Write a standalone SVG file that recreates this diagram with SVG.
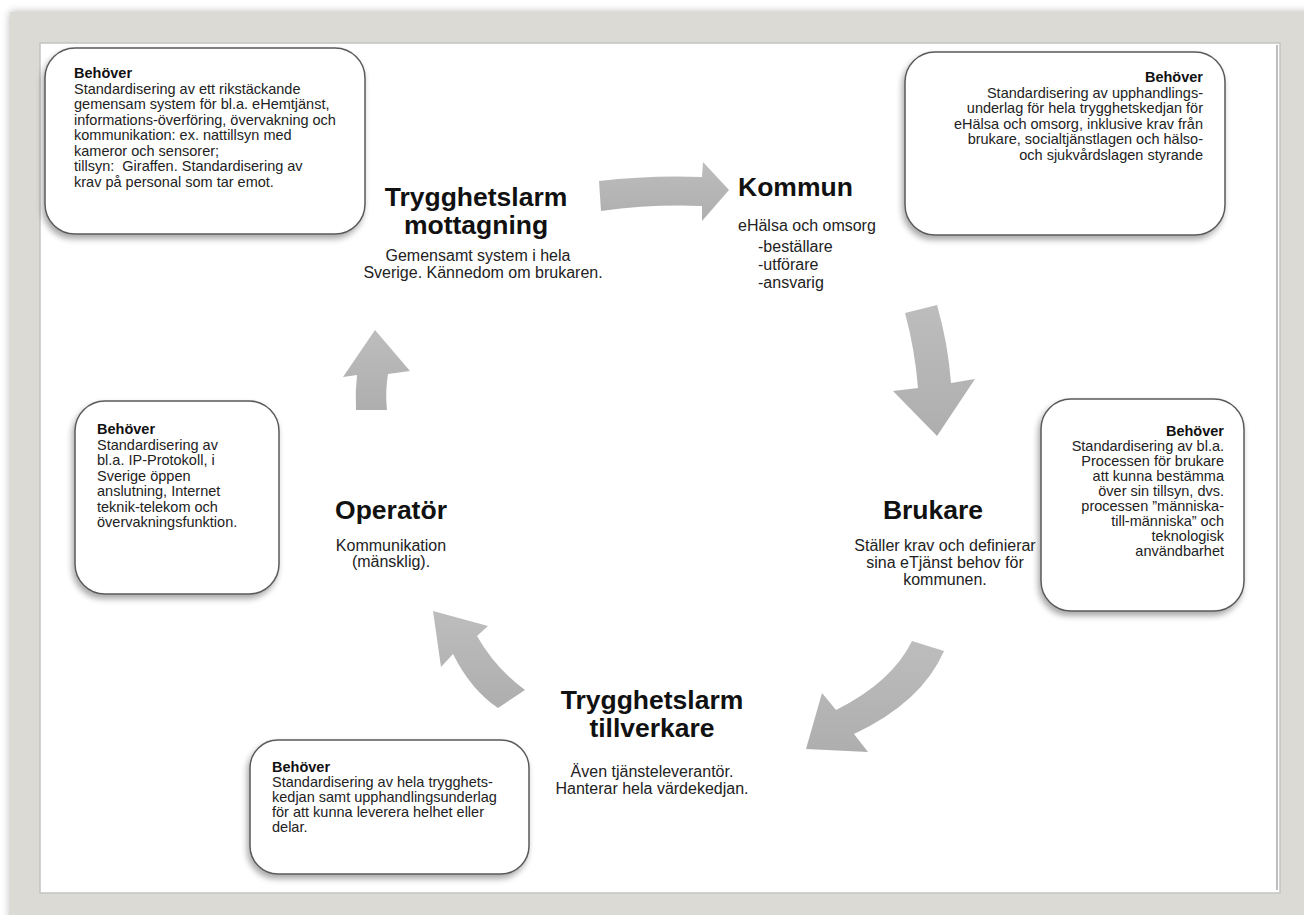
<svg xmlns="http://www.w3.org/2000/svg" width="1304" height="915" viewBox="0 0 1304 915">
<defs>
<style>
.box{fill:#fff;stroke:#5a5a5a;stroke-width:1.5;filter:url(#sh)}
.bt{font-family:"Liberation Sans",Arial,sans-serif;font-size:14.5px;fill:#222}
.bh{font-weight:bold;fill:#111}
.ttl{font-family:"Liberation Sans",Arial,sans-serif;font-size:26.5px;font-weight:bold;fill:#111;text-anchor:middle}
.sub{font-family:"Liberation Sans",Arial,sans-serif;font-size:16px;fill:#222;text-anchor:middle}
.arr{fill:url(#ag)}
</style>
<filter id="sh" x="-10%" y="-10%" width="120%" height="125%">
<feGaussianBlur in="SourceAlpha" stdDeviation="3"/>
<feOffset dx="-2" dy="4" result="b"/>
<feComponentTransfer><feFuncA type="linear" slope="0.35"/></feComponentTransfer>
<feMerge><feMergeNode/><feMergeNode in="SourceGraphic"/></feMerge>
</filter>
<filter id="fsh" x="-5%" y="-5%" width="110%" height="110%">
<feGaussianBlur in="SourceAlpha" stdDeviation="4"/>
<feComponentTransfer><feFuncA type="linear" slope="0.3"/></feComponentTransfer>
<feMerge><feMergeNode/><feMergeNode in="SourceGraphic"/></feMerge>
</filter>
<linearGradient id="ag" x1="0" y1="0" x2="0" y2="1">
<stop offset="0" stop-color="#bdbdbd"/>
<stop offset="1" stop-color="#aeaeae"/>
</linearGradient>
</defs>
<rect width="1304" height="915" fill="#fff"/>
<g id="frame">
<rect x="10" y="12" width="1300" height="910" fill="#dcdad4" filter="url(#fsh)"/>
<rect x="40" y="43" width="1240" height="850" fill="#fff" stroke="#c4c4c4" stroke-width="1.5"/>
<line x1="1277" y1="45" x2="1277" y2="890" stroke="#a9a9a9" stroke-width="1.5"/>
</g>
<g id="connectors">
<path class="arr" d="M599 181 Q650 175 702 177 L703 162 L729 190 L702 221 L702 206 Q652 204 601 211 Z"/>
<path class="arr" d="M905 313 Q915 350 918 388 L893 391 L937 436 L975 379 L951 383 Q948 343 937 305 Z"/>
<path class="arr" d="M912 641 Q892 682 836 710 L822 693 L806 749 L868 752 L854 734 Q922 702 944 651 Z"/>
<path class="arr" d="M525 690 Q495 668 477 636 L488 626 L433 611 L441 667 L453 654 Q471 690 498 708 Z"/>
<path class="arr" d="M356 410 Q355 392 357 375 L343 377 L375 330 L410 371 L388 374 Q385 392 387 410 Z"/>
</g>
<g id="box-tl">
<rect class="box" x="45" y="48" width="320" height="186" rx="30"/>
<text class="bt" x="74" xml:space="preserve"><tspan class="bh" y="78">Behöver</tspan><tspan x="74" y="93.5">Standardisering av ett rikstäckande</tspan><tspan x="74" y="109">gemensam system för bl.a. eHemtjänst,</tspan><tspan x="74" y="124.5">informations-överföring, övervakning och</tspan><tspan x="74" y="140">kommunikation: ex. nattillsyn med</tspan><tspan x="74" y="155.5">kameror och sensorer;</tspan><tspan x="74" y="171">tillsyn:  Giraffen. Standardisering av</tspan><tspan x="74" y="186.5">krav på personal som tar emot.</tspan></text>
</g>
<g id="box-tr">
<rect class="box" x="905" y="52" width="320" height="183" rx="30"/>
<text class="bt" text-anchor="end"><tspan class="bh" x="1203" y="82">Behöver</tspan><tspan x="1203" y="97.5">Standardisering av upphandlings-</tspan><tspan x="1203" y="113">underlag för hela trygghetskedjan för</tspan><tspan x="1203" y="128.5">eHälsa och omsorg, inklusive krav från</tspan><tspan x="1203" y="144">brukare, socialtjänstlagen och hälso-</tspan><tspan x="1203" y="159.5">och sjukvårdslagen styrande</tspan></text>
</g>
<g id="box-l">
<rect class="box" x="75" y="401" width="204" height="193" rx="30"/>
<text class="bt"><tspan class="bh" x="97" y="434">Behöver</tspan><tspan x="97" y="449.5">Standardisering av</tspan><tspan x="97" y="465">bl.a. IP-Protokoll, i</tspan><tspan x="97" y="480.5">Sverige öppen</tspan><tspan x="97" y="496">anslutning, Internet</tspan><tspan x="97" y="511.5">teknik-telekom och</tspan><tspan x="97" y="527">övervakningsfunktion.</tspan></text>
</g>
<g id="box-r">
<rect class="box" x="1041" y="399" width="203" height="212" rx="30"/>
<text class="bt" text-anchor="end"><tspan class="bh" x="1224" y="436">Behöver</tspan><tspan x="1224" y="451">Standardisering av bl.a.</tspan><tspan x="1224" y="466">Processen för brukare</tspan><tspan x="1224" y="481">att kunna bestämma</tspan><tspan x="1224" y="496">över sin tillsyn, dvs.</tspan><tspan x="1224" y="511">processen ”människa-</tspan><tspan x="1224" y="526">till-människa” och</tspan><tspan x="1224" y="541">teknologisk</tspan><tspan x="1224" y="556">användbarhet</tspan></text>
</g>
<g id="box-b">
<rect class="box" x="250" y="740" width="279" height="134" rx="28"/>
<text class="bt"><tspan class="bh" x="272" y="772">Behöver</tspan><tspan x="272" y="787">Standardisering av hela trygghets-</tspan><tspan x="272" y="802">kedjan samt upphandlingsunderlag</tspan><tspan x="272" y="817">för att kunna leverera helhet eller</tspan><tspan x="272" y="832">delar.</tspan></text>
</g>
<g id="node-mottagning">
<text class="ttl" x="476" y="206">Trygghetslarm</text>
<text class="ttl" x="476" y="234">mottagning</text>
<text class="sub" x="478" y="261">Gemensamt system i hela</text>
<text class="sub" x="483" y="278">Sverige. Kännedom om brukaren.</text>
</g>
<g id="node-kommun">
<text class="ttl" x="738" y="196" style="text-anchor:start">Kommun</text>
<text class="sub" x="738" y="231" style="text-anchor:start">eHälsa och omsorg</text>
<text class="sub" x="758" y="252" style="text-anchor:start">-beställare</text>
<text class="sub" x="758" y="270" style="text-anchor:start">-utförare</text>
<text class="sub" x="758" y="288" style="text-anchor:start">-ansvarig</text>
</g>
<g id="node-brukare">
<text class="ttl" x="933" y="519">Brukare</text>
<text class="sub" x="945" y="551">Ställer krav och definierar</text>
<text class="sub" x="945" y="568">sina eTjänst behov för</text>
<text class="sub" x="945" y="585">kommunen.</text>
</g>
<g id="node-tillverkare">
<text class="ttl" x="652" y="709">Trygghetslarm</text>
<text class="ttl" x="652" y="737">tillverkare</text>
<text class="sub" x="652" y="777">Även tjänsteleverantör.</text>
<text class="sub" x="652" y="794">Hanterar hela värdekedjan.</text>
</g>
<g id="node-operator">
<text class="ttl" x="391" y="519">Operatör</text>
<text class="sub" x="391" y="551">Kommunikation</text>
<text class="sub" x="391" y="567">(mänsklig).</text>
</g>
</svg>
